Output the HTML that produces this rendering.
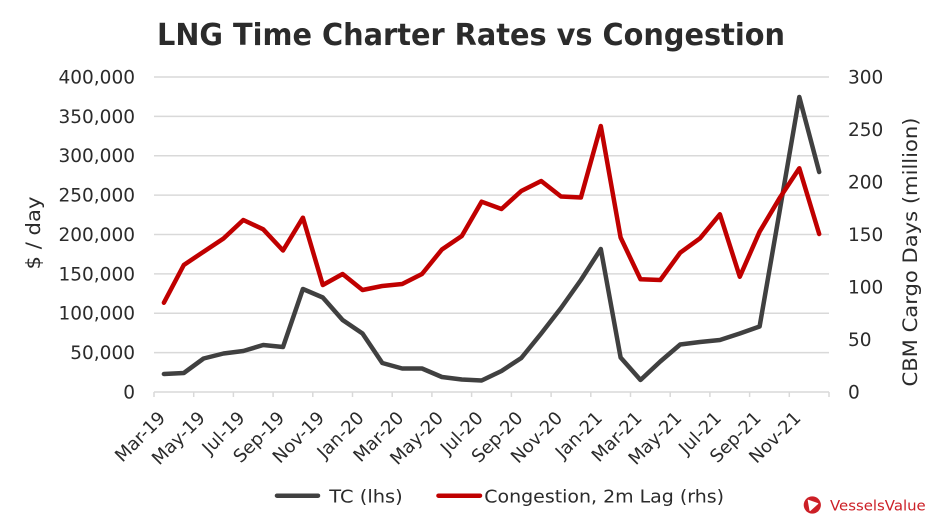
<!DOCTYPE html>
<html>
<head>
<meta charset="utf-8">
<style>
  html, body { margin: 0; padding: 0; background: #ffffff; }
  svg { display: block; }
  text { font-family: "DejaVu Sans", "Liberation Sans", sans-serif; fill: #2b2b2b; }
</style>
</head>
<body>
<svg width="940" height="531" viewBox="0 0 940 531" xmlns="http://www.w3.org/2000/svg">
  <rect x="0" y="0" width="940" height="531" fill="#ffffff"/>

  <!-- Title -->
  <text x="157" y="45" font-size="30.5" font-weight="bold" fill="#262626" textLength="628" lengthAdjust="spacingAndGlyphs">LNG Time Charter Rates vs Congestion</text>

  <!-- Gridlines -->
  <g stroke="#d9d9d9" stroke-width="1.5">
    <line x1="154" y1="77" x2="829" y2="77"/>
    <line x1="154" y1="116.4" x2="829" y2="116.4"/>
    <line x1="154" y1="155.75" x2="829" y2="155.75"/>
    <line x1="154" y1="195.1" x2="829" y2="195.1"/>
    <line x1="154" y1="234.5" x2="829" y2="234.5"/>
    <line x1="154" y1="273.9" x2="829" y2="273.9"/>
    <line x1="154" y1="313.25" x2="829" y2="313.25"/>
    <line x1="154" y1="352.6" x2="829" y2="352.6"/>
    <line x1="154" y1="392" x2="829" y2="392"/>
  </g>
  <!-- x ticks -->
  <g stroke="#d9d9d9" stroke-width="1.5">
    <line x1="154" y1="392" x2="154" y2="397"/>
    <line x1="193.7" y1="392" x2="193.7" y2="397"/>
    <line x1="233.4" y1="392" x2="233.4" y2="397"/>
    <line x1="273.1" y1="392" x2="273.1" y2="397"/>
    <line x1="312.8" y1="392" x2="312.8" y2="397"/>
    <line x1="352.5" y1="392" x2="352.5" y2="397"/>
    <line x1="392.2" y1="392" x2="392.2" y2="397"/>
    <line x1="431.9" y1="392" x2="431.9" y2="397"/>
    <line x1="471.6" y1="392" x2="471.6" y2="397"/>
    <line x1="511.4" y1="392" x2="511.4" y2="397"/>
    <line x1="551.1" y1="392" x2="551.1" y2="397"/>
    <line x1="590.8" y1="392" x2="590.8" y2="397"/>
    <line x1="630.5" y1="392" x2="630.5" y2="397"/>
    <line x1="670.2" y1="392" x2="670.2" y2="397"/>
    <line x1="709.9" y1="392" x2="709.9" y2="397"/>
    <line x1="749.6" y1="392" x2="749.6" y2="397"/>
    <line x1="789.3" y1="392" x2="789.3" y2="397"/>
    <line x1="829" y1="392" x2="829" y2="397"/>
  </g>

  <!-- Left axis labels -->
  <g font-size="18.5" text-anchor="end">
    <text x="135" y="83.5">400,000</text>
    <text x="135" y="122.9">350,000</text>
    <text x="135" y="162.2">300,000</text>
    <text x="135" y="201.6">250,000</text>
    <text x="135" y="241">200,000</text>
    <text x="135" y="280.4">150,000</text>
    <text x="135" y="319.7">100,000</text>
    <text x="135" y="359.1">50,000</text>
    <text x="135" y="398.5">0</text>
  </g>

  <!-- Right axis labels -->
  <g font-size="18.5" text-anchor="start">
    <text x="848" y="83.5">300</text>
    <text x="848" y="136">250</text>
    <text x="848" y="188.5">200</text>
    <text x="848" y="241">150</text>
    <text x="848" y="293.5">100</text>
    <text x="848" y="346">50</text>
    <text x="848" y="398.5">0</text>
  </g>

  <!-- Axis titles -->
  <text transform="translate(40,233) rotate(-90)" font-size="19.5" text-anchor="middle" textLength="73" lengthAdjust="spacingAndGlyphs">$ / day</text>
  <text transform="translate(917,252) rotate(-90)" font-size="19.5" text-anchor="middle" textLength="269" lengthAdjust="spacingAndGlyphs">CBM Cargo Days (million)</text>

  <!-- X axis labels -->
  <g font-size="18" text-anchor="end">
    <text transform="translate(166.4,419) rotate(-45)">Mar-19</text>
    <text transform="translate(206.1,419) rotate(-45)">May-19</text>
    <text transform="translate(245.8,419) rotate(-45)">Jul-19</text>
    <text transform="translate(285.5,419) rotate(-45)">Sep-19</text>
    <text transform="translate(325.3,419) rotate(-45)">Nov-19</text>
    <text transform="translate(365.0,419) rotate(-45)">Jan-20</text>
    <text transform="translate(404.7,419) rotate(-45)">Mar-20</text>
    <text transform="translate(444.4,419) rotate(-45)">May-20</text>
    <text transform="translate(484.1,419) rotate(-45)">Jul-20</text>
    <text transform="translate(523.8,419) rotate(-45)">Sep-20</text>
    <text transform="translate(563.5,419) rotate(-45)">Nov-20</text>
    <text transform="translate(603.3,419) rotate(-45)">Jan-21</text>
    <text transform="translate(643.0,419) rotate(-45)">Mar-21</text>
    <text transform="translate(682.7,419) rotate(-45)">May-21</text>
    <text transform="translate(722.4,419) rotate(-45)">Jul-21</text>
    <text transform="translate(762.1,419) rotate(-45)">Sep-21</text>
    <text transform="translate(801.8,419) rotate(-45)">Nov-21</text>
  </g>

  <!-- TC series -->
  <polyline fill="none" stroke="#404040" stroke-width="4.5" stroke-linejoin="round" stroke-linecap="round"
    points="163.9,374 183.8,373 203.6,358.5 223.5,353.5 243.3,351 263.2,345 283.0,347 302.9,289 322.8,297.5 342.6,320 362.5,333.5 382.3,363 402.2,368.5 422.0,368.5 441.9,377 461.8,379.5 481.6,380.5 501.5,371 521.3,358 541.2,333.5 561.0,308 580.9,280 600.8,249 620.6,357.5 640.5,380 660.3,361.5 680.2,344.5 700.0,342 719.9,340 739.8,333.5 759.6,326.5 779.5,212 799.3,97 819.2,172"/>

  <!-- Congestion series -->
  <polyline fill="none" stroke="#c00000" stroke-width="4.5" stroke-linejoin="round" stroke-linecap="round"
    points="163.9,302.7 183.8,265 203.6,251.7 223.5,238.5 243.3,220 263.2,229.3 283.0,250.5 302.9,217.7 322.8,285 342.6,274 362.5,290 382.3,286 402.2,284 422.0,274 441.9,249.5 461.8,236 481.6,201.7 501.5,209 521.3,191 541.2,181 561.0,196.5 580.9,197.5 600.8,126 620.6,237.5 640.5,279.3 660.3,280 680.2,252.7 700.0,238.3 719.9,214.3 739.8,276.7 759.6,231.7 779.5,198.3 799.3,168.3 819.2,234"/>

  <!-- Legend -->
  <line x1="277" y1="495.7" x2="318" y2="495.7" stroke="#404040" stroke-width="4.5" stroke-linecap="round"/>
  <text x="329.3" y="502.5" font-size="18" textLength="73.4" lengthAdjust="spacingAndGlyphs">TC (lhs)</text>
  <line x1="438.5" y1="495.7" x2="480" y2="495.7" stroke="#c00000" stroke-width="4.5" stroke-linecap="round"/>
  <text x="484.3" y="502.5" font-size="18" textLength="239.7" lengthAdjust="spacingAndGlyphs">Congestion, 2m Lag (rhs)</text>

  <!-- Logo -->
  <circle cx="812.3" cy="505" r="8.6" fill="#cc1f26"/>
  <path d="M808.2,500.2 L817.8,503.6 L810.0,510.6 Z" fill="#ffffff" stroke="#ffffff" stroke-width="1" stroke-linejoin="round"/>
  <text x="830" y="510.3" font-family="Liberation Sans, sans-serif" font-size="14.5" style="fill:#cc1f26" textLength="95.7" lengthAdjust="spacingAndGlyphs">VesselsValue</text>
</svg>
</body>
</html>
